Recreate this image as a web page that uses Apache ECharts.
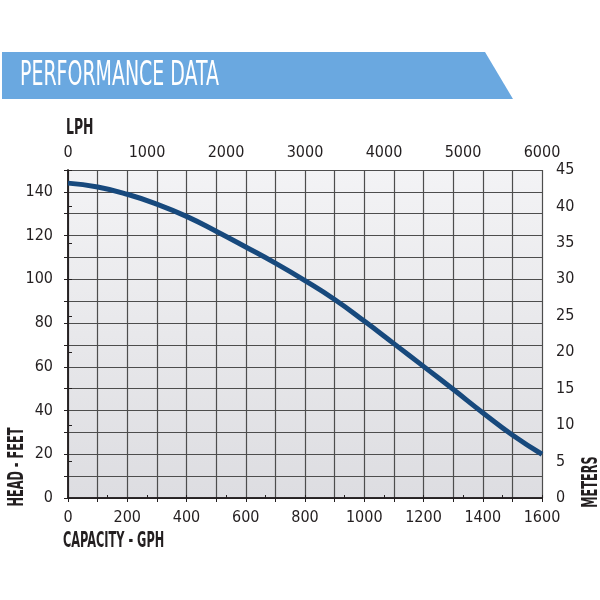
<!DOCTYPE html>
<html>
<head>
<meta charset="utf-8">
<script src="https://cdn.jsdelivr.net/npm/echarts@6/dist/echarts.min.js"></script>
<style>
  html, body { margin: 0; padding: 0; background: #fff; }
  #chart { width: 600px; height: 600px; }
</style>
</head>
<body>
<div id="chart"></div>
<script>
// capacity (GPH) vs head (feet)
var capacityGph = [0, 100, 200, 300, 400, 500, 600, 700, 800, 900, 1000, 1100, 1200, 1300, 1400, 1500, 1600]
var headFeet = [144, 142.2, 138.9, 134.4, 128.8, 122, 114.8, 107.4, 99.4, 90.8, 80.9, 70.6, 60.2, 49.7, 39, 28.8, 20]

var title = 'PERFORMANCE DATA'
var topAxisName = 'LPH'
var bottomAxisName = 'CAPACITY - GPH'
var leftAxisName = 'HEAD - FEET'
var rightAxisName = 'METERS'

var labelFont = '"DejaVu Sans Condensed", "Liberation Sans Narrow", sans-serif'
var ink = '#231f20'
var gridLine = '#4d4d4d'

var chart = echarts.init(document.getElementById('chart'))

var option = {
  animation: false,
  grid: {
    left: 68, right: 58, top: 170, bottom: 102,
    show: true,
    borderWidth: 0,
    backgroundColor: new echarts.graphic.LinearGradient(0, 0, 0, 1, [
      { offset: 0, color: '#f3f3f5' },
      { offset: 1, color: '#dddde1' }
    ])
  },
  xAxis: [{
    type: 'value', position: 'bottom', min: 0, max: 1600, interval: 100,
    axisLine: { show: true, lineStyle: { color: ink, width: 1.5 } },
    axisTick: { show: true, length: 4, lineStyle: { color: ink } },
    splitLine: { show: true, lineStyle: { color: gridLine, width: 1.2 } },
    axisLabel: {
      margin: 12, color: ink, fontFamily: labelFont, fontSize: 16,
      formatter: function (v) { return v % 200 === 0 ? String(v) : '' }
    }
  }, {
    type: 'value', position: 'top', min: 0, max: 6000, interval: 500,
    axisLine: { show: true, lineStyle: { color: ink, width: 1.5 } },
    axisTick: { show: true, length: 3, lineStyle: { color: ink } },
    splitLine: { show: false },
    axisLabel: {
      margin: 9, color: ink, fontFamily: labelFont, fontSize: 16,
      formatter: function (v) { return v % 1000 === 0 ? String(v) : '' }
    }
  }],
  yAxis: [{
    type: 'value', position: 'left', min: 0, max: 150, interval: 10,
    axisLine: { show: true, lineStyle: { color: ink, width: 1.5 } },
    axisTick: { show: true, length: 4, lineStyle: { color: ink } },
    splitLine: { show: true, lineStyle: { color: gridLine, width: 1.2 } },
    axisLabel: {
      margin: 15, color: ink, fontFamily: labelFont, fontSize: 16,
      formatter: function (v) { return v % 20 === 0 ? String(v) : '' }
    }
  }, {
    type: 'value', position: 'right', min: 0, max: 45, interval: 5,
    axisLine: { show: true, lineStyle: { color: ink, width: 1.5 } },
    axisTick: { show: true, length: 4, lineStyle: { color: ink } },
    splitLine: { show: false },
    axisLabel: { margin: 14, color: ink, fontFamily: labelFont, fontSize: 16 }
  }],
  series: [{
    type: 'line',
    xAxisIndex: 0, yAxisIndex: 0,
    smooth: 0.5,
    symbol: 'none',
    lineStyle: { color: '#17497d', width: 5 },
    data: capacityGph.map(function (g, i) { return [g, headFeet[i]] })
  }],
  graphic: [{
    type: 'polygon',
    shape: { points: [[2, 52], [485, 52], [513, 99], [2, 99]] },
    style: { fill: '#6aa8e0' }
  }, {
    type: 'text', x: 20, y: 76, scaleX: 0.62,
    style: {
      text: title, fill: '#fff', font: '34px ' + labelFont,
      textVerticalAlign: 'middle'
    }
  }, {
    type: 'text', x: 66, y: 129, scaleX: 0.66,
    style: {
      text: topAxisName, fill: ink, font: 'bold 21px ' + labelFont,
      textVerticalAlign: 'middle'
    }
  }, {
    type: 'text', x: 63, y: 542, scaleX: 0.6,
    style: {
      text: bottomAxisName, fill: ink, font: 'bold 21px ' + labelFont,
      textVerticalAlign: 'middle'
    }
  }, {
    type: 'text', x: 18, y: 467, rotation: Math.PI / 2, scaleX: 0.6,
    style: {
      text: leftAxisName, fill: ink, font: 'bold 21px ' + labelFont,
      textAlign: 'center', textVerticalAlign: 'middle'
    }
  }, {
    type: 'text', x: 592, y: 482, rotation: Math.PI / 2, scaleX: 0.6,
    style: {
      text: rightAxisName, fill: ink, font: 'bold 21px ' + labelFont,
      textAlign: 'center', textVerticalAlign: 'middle'
    }
  }]
}

chart.setOption(option)
</script>
</body>
</html>
